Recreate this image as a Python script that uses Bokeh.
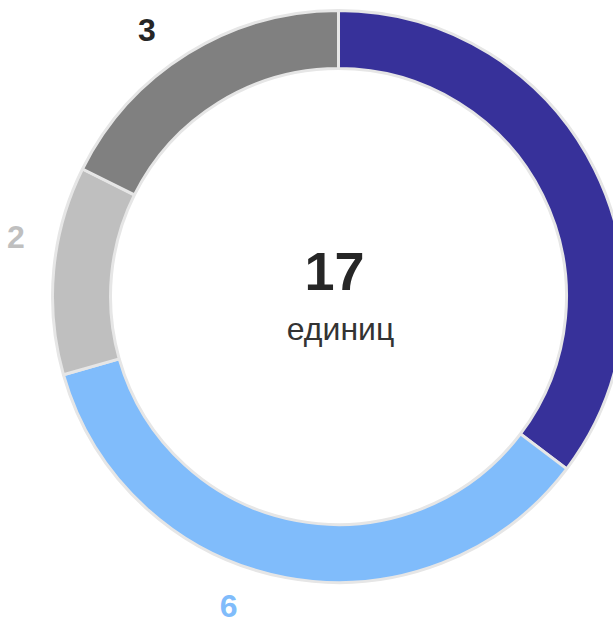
import math
from bokeh.plotting import figure
from bokeh.models import ColumnDataSource, Range1d
from bokeh.core.properties import value
from bokeh.embed import file_html
from bokeh.resources import INLINE

# ---- data ----
categories = ["A", "B", "C", "D"]
values = [6, 6, 2, 3]
colors = ["#37319A", "#80BCFB", "#BFBFBF", "#808080"]
label_colors = ["#37319A", "#80BCFB", "#BFBFBF", "#262626"]
total_unit = "единиц"

# ---- layout ----
W, H = 613, 618
cx, cy = 338, H - 296
r_out, r_in = 286, 228
r_label = 328
label_nudge_deg = [3.0, -9.0, -5.2, 4.0]

total = sum(values)
starts, ends, lx, ly, texts = [], [], [], [], []
cum = 0.0
for v, nd in zip(values, label_nudge_deg):
    a0 = math.pi / 2 - 2 * math.pi * cum / total
    cum += v
    a1 = math.pi / 2 - 2 * math.pi * cum / total
    starts.append(a1)
    ends.append(a0)
    mid = (a0 + a1) / 2 + math.radians(nd)
    lx.append(cx + r_label * math.cos(mid))
    ly.append(cy + r_label * math.sin(mid))
    texts.append(str(v))

src = ColumnDataSource(dict(x=[cx] * len(values), y=[cy] * len(values),
                            start=starts, end=ends, color=colors,
                            lx=lx, ly=ly, text=texts, lcolor=label_colors))

p = figure(width=W, height=H, output_backend="svg", toolbar_location=None,
           x_range=Range1d(0, W), y_range=Range1d(0, H), min_border=0)
p.axis.visible = False
p.grid.visible = False
p.outline_line_color = None
p.background_fill_color = "white"

p.annular_wedge(x="x", y="y", inner_radius=r_in, outer_radius=r_out,
                start_angle="start", end_angle="end", fill_color="color",
                line_color="#E6E6E6", line_width=3, source=src)

p.text(x="lx", y="ly", text="text", text_color="lcolor", source=src,
       text_font=value("Liberation Sans"), text_font_style="bold",
       text_font_size="32px", text_align="center", text_baseline="middle")

p.text(x=[cx - 4], y=[cy + 25], text=[str(total)], text_color="#262626",
       text_font=value("Liberation Sans"), text_font_style="bold",
       text_font_size="54px", text_align="center", text_baseline="middle")
p.text(x=[cx + 2], y=[cy - 32], text=[total_unit], text_color="#333333",
       text_font=value("Liberation Sans"),
       text_font_size="32px", text_align="center", text_baseline="middle")

open("out.html", "w").write(file_html(p, INLINE))
